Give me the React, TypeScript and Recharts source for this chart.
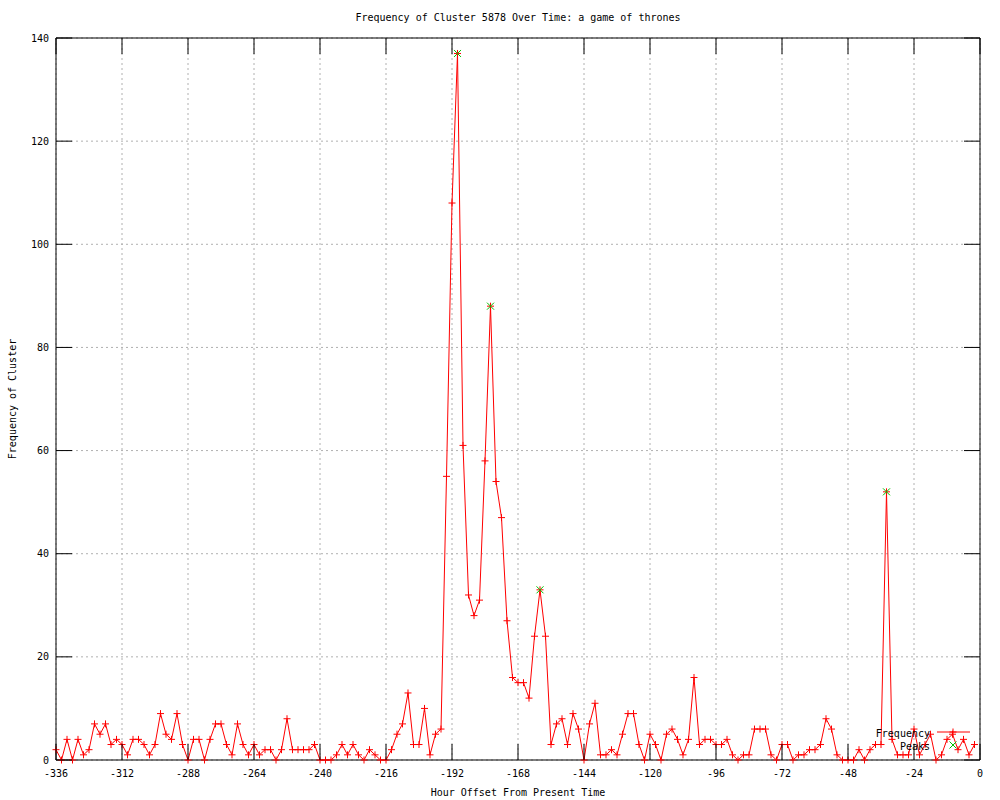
import React from "react";
import {
  ComposedChart,
  Line,
  Scatter,
  XAxis,
  YAxis,
  CartesianGrid,
  ReferenceArea,
} from "recharts";

// hourly counts, one every 2 hours, starting at -336
const FIRST_HOUR = -336;
const HOUR_STEP = 2;
const FREQUENCY = [
  2, 0, 4, 0, 4, 1, 2, 7, 5, 7, 3, 4, 3, 1, 4, 4, 3, 1, 3, 9, 5, 4, 9, 3, 0, 4, 4, 0, 4, 7, 7, 3, 1, 7,
  3, 1, 3, 1, 2, 2, 0, 2, 8, 2, 2, 2, 2, 3, 0, 0, 0, 1, 3, 1, 3, 1, 0, 2, 1, 0, 0, 2, 5, 7, 13, 3, 3, 10, 1,
  5, 6, 55, 108, 137, 61, 32, 28, 31, 58, 88, 54, 47, 27, 16, 15, 15, 12, 24, 33, 24, 3, 7, 8, 3, 9, 6, 0,
  7, 11, 1, 1, 2, 1, 5, 9, 9, 3, 0, 5, 3, 0, 5, 6, 4, 1, 4, 16, 3, 4, 4, 3, 3, 4, 1, 0, 1, 1, 6, 6, 6, 1, 0, 3, 3,
  0, 1, 1, 2, 2, 3, 8, 6, 1, 0, 0, 0, 2, 0, 2, 3, 3, 52, 4, 1, 1, 1, 6, 1, 3, 5, 0, 1, 4, 5, 2, 4, 1, 3,
];
const HOURS = FREQUENCY.map((_, i) => FIRST_HOUR + i * HOUR_STEP);

const PEAK_HOURS = [-190, -178, -160, -34];
const PEAK_VALUES = [137, 88, 33, 52];

const X_TICKS = [-336, -312, -288, -264, -240, -216, -192, -168, -144, -120, -96, -72, -48, -24, 0];
const Y_TICKS = [0, 20, 40, 60, 80, 100, 120, 140];

const freqData = HOURS.map((hour, i) => ({ hour, value: FREQUENCY[i] }));
const peakData = PEAK_HOURS.map((hour, i) => ({ hour, value: PEAK_VALUES[i] }));

const PLOT_TOP = 38;
const PLOT_BOTTOM = 760;
const PLOT_LEFT = 56;
const PLOT_RIGHT = 980;
const TICK_LEN = 16;
const FONT = '"DejaVu Sans Mono", monospace';
const RED = "#ff0000";
const GREEN = "#00c000";

function PlusMark({ cx, cy }: { cx: number; cy: number }) {
  return (
    <g>
      <line x1={cx - 3.5} x2={cx + 3.5} y1={cy} y2={cy} stroke={RED} strokeWidth={1} />
      <line x1={cx} x2={cx} y1={cy - 3.5} y2={cy + 3.5} stroke={RED} strokeWidth={1} />
    </g>
  );
}

function XMark({ cx, cy }: { cx: number; cy: number }) {
  return (
    <g>
      <line x1={cx - 3.5} x2={cx + 3.5} y1={cy - 3.5} y2={cy + 3.5} stroke={GREEN} strokeWidth={1} />
      <line x1={cx - 3.5} x2={cx + 3.5} y1={cy + 3.5} y2={cy - 3.5} stroke={GREEN} strokeWidth={1} />
    </g>
  );
}

function XTick(props: any) {
  const { x, payload } = props;
  return (
    <g>
      <line x1={x} x2={x} y1={PLOT_BOTTOM} y2={PLOT_BOTTOM - TICK_LEN} stroke="#000" />
      <line x1={x} x2={x} y1={PLOT_TOP} y2={PLOT_TOP + TICK_LEN} stroke="#000" />
      <text x={x} y={PLOT_BOTTOM + 13} textAnchor="middle" dominantBaseline="central" fontSize={10} fontFamily={FONT} fill="#000">
        {payload.value}
      </text>
    </g>
  );
}

function YTick(props: any) {
  const { y, payload } = props;
  return (
    <g>
      <line x1={PLOT_LEFT} x2={PLOT_LEFT + TICK_LEN} y1={y} y2={y} stroke="#000" />
      <line x1={PLOT_RIGHT - TICK_LEN} x2={PLOT_RIGHT} y1={y} y2={y} stroke="#000" />
      <text x={PLOT_LEFT - 7} y={y} textAnchor="end" dominantBaseline="central" fontSize={10} fontFamily={FONT} fill="#000">
        {payload.value}
      </text>
    </g>
  );
}

function LegendBox() {
  return (
    <svg
      width={125}
      height={32}
      style={{ position: "absolute", left: 860, top: 720, display: "block", overflow: "visible" }}
    >
      <text x={70} y={13} textAnchor="end" dominantBaseline="central" fontSize={10} fontFamily={FONT} fill="#000">
        Frequency
      </text>
      <line x1={77} x2={110} y1={12} y2={12} stroke={RED} />
      <PlusMark cx={93} cy={12} />
      <text x={70} y={26} textAnchor="end" dominantBaseline="central" fontSize={10} fontFamily={FONT} fill="#000">
        Peaks
      </text>
      <XMark cx={93} cy={25} />
    </svg>
  );
}

export default function App() {
  return (
    <div style={{ position: "absolute", left: 0, top: 0, width: 1000, height: 800, background: "#fff" }}>
      <div
        style={{
          position: "absolute",
          left: PLOT_LEFT,
          width: PLOT_RIGHT - PLOT_LEFT,
          top: 11,
          lineHeight: "14px",
          textAlign: "center",
          fontSize: 10,
          fontFamily: FONT,
          color: "#000",
        }}
      >
        Frequency of Cluster 5878 Over Time: a game of thrones
      </div>
      <ComposedChart
        width={1000}
        height={800}
        data={freqData}
        margin={{ top: PLOT_TOP, right: 1000 - PLOT_RIGHT, bottom: 0, left: 0 }}
      >
        <CartesianGrid stroke="#b0b0b0" strokeDasharray="2 3" />
        <XAxis
          dataKey="hour"
          type="number"
          domain={[-336, 0]}
          ticks={X_TICKS}
          interval={0}
          height={800 - PLOT_BOTTOM}
          tickLine={false}
          axisLine={false}
          tick={<XTick />}
          label={{
            content: (p: any) => (
              <text
                x={p.viewBox.x + p.viewBox.width / 2}
                y={792}
                textAnchor="middle"
                dominantBaseline="central"
                fontSize={10}
                fontFamily={FONT}
                fill="#000"
              >
                Hour Offset From Present Time
              </text>
            ),
          }}
        />
        <YAxis
          type="number"
          domain={[0, 140]}
          ticks={Y_TICKS}
          interval={0}
          width={PLOT_LEFT}
          tickLine={false}
          axisLine={false}
          tick={<YTick />}
          label={{
            content: (p: any) => {
              const cy = p.viewBox.y + p.viewBox.height / 2;
              return (
                <text
                  x={12}
                  y={cy}
                  transform={`rotate(-90 12 ${cy})`}
                  textAnchor="middle"
                  dominantBaseline="central"
                  fontSize={10}
                  fontFamily={FONT}
                  fill="#000"
                >
                  Frequency of Cluster
                </text>
              );
            },
          }}
        />
        <ReferenceArea x1={-336} x2={0} y1={0} y2={140} fill="none" stroke="#000" strokeWidth={1} ifOverflow="visible" />
        <Line
          type="linear"
          dataKey="value"
          stroke={RED}
          strokeWidth={1}
          isAnimationActive={false}
          dot={(props: any) => <PlusMark key={`p-${props.index}`} cx={props.cx} cy={props.cy} />}
          activeDot={false}
          name="Frequency"
        />
        <Scatter
          data={peakData}
          dataKey="value"
          isAnimationActive={false}
          shape={(props: any) => <XMark cx={props.cx} cy={props.cy} />}
          name="Peaks"
        />
      </ComposedChart>
      <LegendBox />
    </div>
  );
}
